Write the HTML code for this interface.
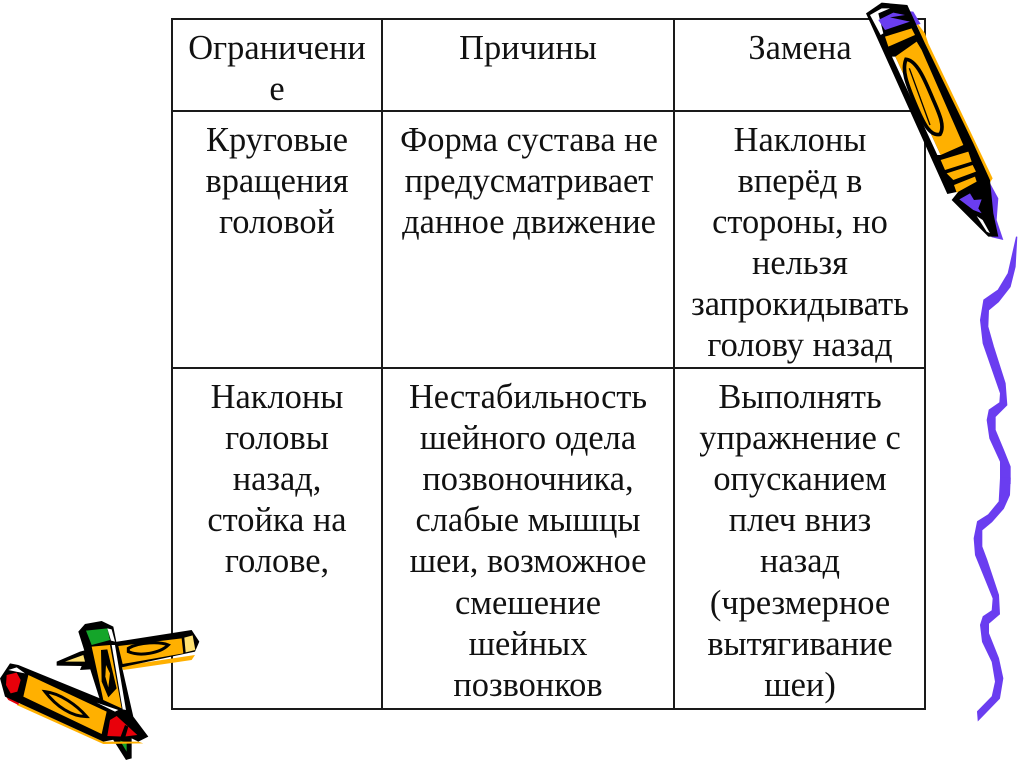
<!DOCTYPE html>
<html><head><meta charset="utf-8"><style>
html,body{margin:0;padding:0;background:#fff;width:1024px;height:767px;overflow:hidden}
svg{display:block}
text{font-family:"Liberation Serif","Noto Serif CJK SC",serif;font-size:34.4px;fill:#111;text-anchor:middle}
</style></head><body>
<svg width="1024" height="767" viewBox="0 0 1024 767" xmlns="http://www.w3.org/2000/svg">
<rect width="1024" height="767" fill="#fff"/>
<g stroke="#1a1a1a" stroke-width="2" fill="none">
<rect x="172" y="19" width="753" height="690"/>
<path d="M172 111H925M172 368H925M382 19V709M674 19V709"/>
</g>
<g transform="translate(0,1)">
<text x="277" y="58">Ограничени</text><text x="277" y="99">е</text>
<text x="528" y="58">Причины</text>
<text x="800" y="58">Замена</text>
<text x="277" y="150">Круговые</text><text x="277" y="191">вращения</text><text x="277" y="232">головой</text>
<text x="529" y="150">Форма сустава не</text><text x="529" y="191">предусматривает</text><text x="529" y="232">данное движение</text>
<text x="800" y="150">Наклоны</text><text x="800" y="191">вперёд в</text><text x="800" y="232">стороны, но</text><text x="800" y="273">нельзя</text><text x="800" y="314">запрокидывать</text><text x="800" y="355">голову назад</text>
<text x="277" y="407">Наклоны</text><text x="277" y="448">головы</text><text x="277" y="489">назад,</text><text x="277" y="530">стойка на</text><text x="277" y="571">голове,</text>
<text x="528" y="407">Нестабильность</text><text x="528" y="448">шейного одела</text><text x="528" y="489">позвоночника,</text><text x="528" y="530">слабые мышцы</text><text x="528" y="571">шеи, возможное</text><text x="528" y="613">смешение</text><text x="528" y="654">шейных</text><text x="528" y="695">позвонков</text>
<text x="800" y="407">Выполнять</text><text x="800" y="448">упражнение с</text><text x="800" y="489">опусканием</text><text x="800" y="530">плеч вниз</text><text x="800" y="571">назад</text><text x="800" y="613">(чрезмерное</text><text x="800" y="654">вытягивание</text><text x="800" y="695">шеи)</text>
</g>
<!-- squiggle -->
<g fill="#6a3df0" stroke="#6a3df0" stroke-width="4" transform="translate(960,230) scale(.3333)">
<polygon points="170,20 165,110 150,170 115,215 85,240 83,290 100,350 135,460 140,525 105,560 105,600 130,660 150,710 150,760 122,760 122,695 90,625 82,570 88,540 120,518 122,490 70,340 62,270 72,210 115,180 145,130"/>
</g>
<g fill="#6a3df0" stroke="#6a3df0" stroke-width="4" transform="translate(960,470) scale(.3333)">
<polygon points="150,25 148,75 130,115 95,155 65,180 65,230 80,270 115,375 118,432 85,460 85,490 115,565 128,625 118,685 55,750 53,725 97,680 107,635 97,575 68,515 62,465 70,440 97,422 100,385 47,255 43,205 53,155 85,135 118,95 122,25"/>
</g>
<!-- top-right pencil -->
<g transform="translate(850,0) scale(.3333)">
<polygon fill="#ffb000" points="195,60 225,100 235,130 428,535 405,570 290,300"/>
<polygon fill="#6a3df0" points="80,55 130,30 190,35 212,72 100,95"/>
<polygon fill="#6a3df0" points="415,540 445,595 440,660 460,720 425,712 380,640"/>
<polygon fill="#000" points="48,40 95,8 172,15 225,130 370,430 420,540 430,640 445,710 415,710 305,600 325,575 292,582"/>
<polygon fill="#fff" points="60,45 95,25 120,25 85,40 100,100 92,105"/>
<polygon fill="#fff" points="126,170 136,170 272,465 262,465"/>
<polygon fill="#6a3df0" points="85,60 130,38 165,45 120,52 180,65 105,90 95,75"/>
<polygon fill="#ffb000" points="105,110 185,85 195,105 115,140"/>
<polygon fill="#ffb000" points="136,170 200,125 215,150 340,435 272,465"/>
<polygon fill="#ffb000" points="272,480 355,455 365,485 285,510"/>
<polygon fill="#ffb000" points="290,520 368,495 378,515 310,540"/>
<polygon fill="#ffb000" points="312,555 375,530 380,545 320,578"/>
<polygon fill="#6a3df0" points="328,598 360,580 372,600 395,598 385,625 395,640 370,630"/>
<polygon fill="#fff" points="380,648 398,660 420,700 410,695"/>
<path d="M168 178C200 180 225 240 250 300C270 345 285 380 270 403C240 410 220 370 195 310C170 250 155 210 168 178Z" fill="none" stroke="#000" stroke-width="11"/>
<path d="M178 205L240 375" stroke="#000" stroke-width="4" fill="none"/>
</g>
<!-- bottom-left pencils -->
<g transform="translate(0,610) scale(.3333)">
<polygon fill="#ffb000" points="365,168 585,135 575,150 370,180"/>
<polygon fill="#000" points="170,155 240,125 352,95 575,60 598,95 585,125 365,172 240,180 245,168 170,167"/>
<polygon fill="#ffe070" points="195,155 250,135 255,155"/>
<polygon fill="#ffb000" points="355,108 545,85 550,130 368,162"/>
<polygon fill="#ffe070" points="553,83 578,76 586,120 557,127"/>
<path d="M385 115C420 95 480 95 505 105C480 130 420 140 385 125Z" fill="none" stroke="#000" stroke-width="9"/>
<polygon fill="#000" points="235,65 255,42 305,33 340,50 350,100 400,320 445,380 415,395 395,385 395,445 378,450 340,390 300,270"/>
<polygon fill="#14a52a" points="258,62 322,55 330,90 275,105"/>
<polygon fill="#fff" points="322,55 335,58 345,95 333,92"/>
<polygon fill="#ffb000" points="275,110 330,105 365,295 310,270"/>
<polygon fill="#fff" points="335,105 345,105 378,300 368,298"/>
<polygon fill="#14a52a" points="360,392 380,398 380,425"/>
<polygon fill="#000" points="303,120 322,118 350,235 325,262 305,215"/>
<polygon fill="#ffb000" points="318,165 330,190 325,232 316,200"/>
<polygon fill="#ffb000" points="60,280 310,395 415,395 430,400 310,402 50,285"/>
<polygon fill="#e8000a" points="15,255 60,270 55,285 25,270"/>
<polygon fill="#000" points="0,205 30,160 55,165 300,265 355,300 415,375 310,395 15,260"/>
<polygon fill="#e8000a" points="20,195 50,188 62,210 52,245 32,250 18,225"/>
<polygon fill="#fff" points="25,180 50,172 75,190 48,185"/>
<polygon fill="#ffb000" points="85,195 320,305 305,372 70,260"/>
<polygon fill="#fff" points="290,278 355,300 345,305"/>
<polygon fill="#e8000a" points="330,330 350,318 412,375 370,380 322,378"/>
<polygon fill="#000" points="360,385 375,345 385,350 372,395"/>
<path d="M135 245C180 250 230 285 260 320C215 320 170 290 135 245Z" fill="none" stroke="#000" stroke-width="9"/>
</g>
</svg>
</body></html>
